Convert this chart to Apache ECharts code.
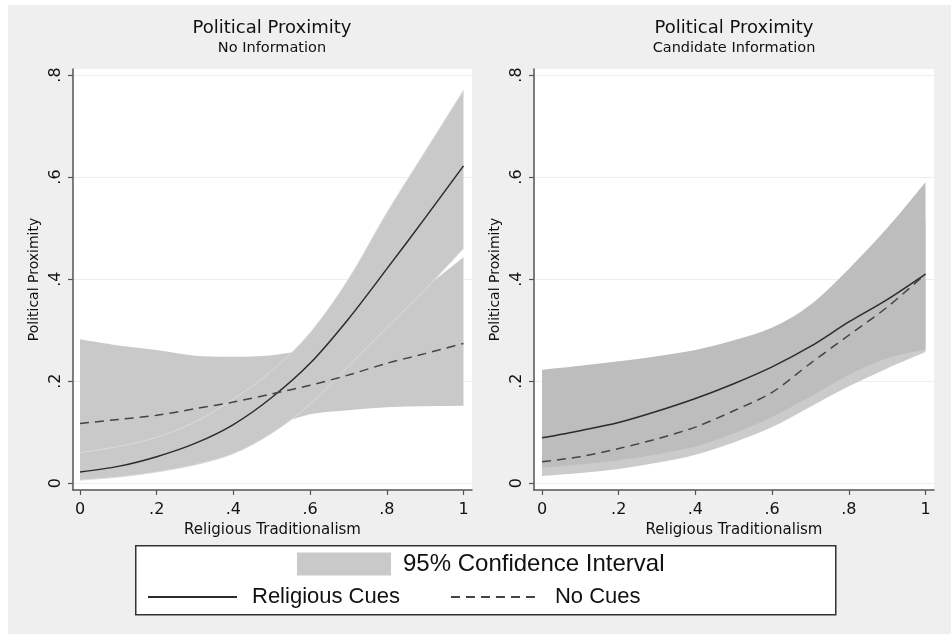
<!DOCTYPE html>
<html>
<head>
<meta charset="utf-8">
<script src="https://cdn.jsdelivr.net/npm/echarts@6/dist/echarts.min.js"></script>
<style>
html, body { margin: 0; padding: 0; background: #fff; }
#chart { width: 951px; height: 634px; }
</style>
</head>
<body>
<div id="chart"></div>
<script>
// religious traditionalism, sampled every 0.1
const xs = [0, 0.1, 0.2, 0.3, 0.4, 0.5, 0.6, 0.7, 0.8, 0.9, 1];

// left panel: No Information
const leftRelig   = [0.022, 0.033, 0.052, 0.078, 0.115, 0.168, 0.235, 0.322, 0.420, 0.520, 0.622];
const leftReligLo = [0.006, 0.012, 0.022, 0.036, 0.058, 0.098, 0.155, 0.230, 0.305, 0.380, 0.460];
const leftReligHi = [0.060, 0.072, 0.090, 0.120, 0.165, 0.220, 0.295, 0.400, 0.530, 0.650, 0.770];
const leftNone    = [0.117, 0.125, 0.133, 0.146, 0.159, 0.175, 0.192, 0.212, 0.235, 0.254, 0.274];
const leftNoneLo  = [0.040, 0.050, 0.062, 0.078, 0.095, 0.112, 0.135, 0.143, 0.149, 0.151, 0.152];
const leftNoneHi  = [0.282, 0.270, 0.261, 0.250, 0.248, 0.251, 0.265, 0.300, 0.340, 0.385, 0.443];

// right panel: Candidate Information
const rightRelig   = [0.089, 0.103, 0.119, 0.141, 0.166, 0.195, 0.228, 0.268, 0.316, 0.360, 0.410];
const rightReligLo = [0.030, 0.037, 0.045, 0.057, 0.072, 0.098, 0.130, 0.170, 0.212, 0.245, 0.262];
const rightReligHi = [0.222, 0.230, 0.239, 0.249, 0.261, 0.280, 0.305, 0.350, 0.420, 0.500, 0.590];
const rightNone    = [0.042, 0.052, 0.068, 0.087, 0.110, 0.142, 0.178, 0.235, 0.290, 0.345, 0.410];
const rightNoneLo  = [0.014, 0.020, 0.028, 0.040, 0.056, 0.080, 0.110, 0.150, 0.190, 0.225, 0.257];
const rightNoneHi  = [0.110, 0.118, 0.125, 0.140, 0.160, 0.190, 0.240, 0.300, 0.370, 0.440, 0.520];

const xTicks = [0, 0.2, 0.4, 0.6, 0.8, 1];
const xTickLabels = ["0", ".2", ".4", ".6", ".8", "1"];
const yTicks = [0, 0.2, 0.4, 0.6, 0.8];
const yTickLabels = ["0", ".2", ".4", ".6", ".8"];

const panelTitle = "Political Proximity";
const panelSubtitles = ["No Information", "Candidate Information"];

const plotFont = "DejaVu Sans";
const legendFont = "Liberation Sans";

function pairs(ys) {
  return xs.map((x, i) => [x, ys[i]]);
}
function tickText(ticks, labels) {
  return v => {
    const i = ticks.findIndex(t => Math.abs(t - v) < 1e-6);
    return i < 0 ? "" : labels[i];
  };
}
// catmull-rom curve through pixel points, as svg "C" segments
function curveThrough(pts) {
  let d = "";
  for (let i = 0; i < pts.length - 1; i++) {
    const p0 = pts[Math.max(i - 1, 0)];
    const p1 = pts[i];
    const p2 = pts[i + 1];
    const p3 = pts[Math.min(i + 2, pts.length - 1)];
    const c1 = [p1[0] + (p2[0] - p0[0]) / 6, p1[1] + (p2[1] - p0[1]) / 6];
    const c2 = [p2[0] - (p3[0] - p1[0]) / 6, p2[1] - (p3[1] - p1[1]) / 6];
    d += " C" + c1.join(",") + " " + c2.join(",") + " " + p2.join(",");
  }
  return d;
}

function makeXAxis(idx, min, max) {
  return {
    type: "value",
    gridIndex: idx,
    min: min,
    max: max,
    name: "Religious Traditionalism",
    nameLocation: "middle",
    nameGap: 31,
    nameTextStyle: { fontFamily: plotFont, fontSize: 15, color: "#111" },
    axisLine: { onZero: false, lineStyle: { color: "#555", width: 1.5 } },
    axisTick: { show: true, length: 5, customValues: xTicks, lineStyle: { color: "#555", width: 1.2 } },
    axisLabel: {
      customValues: xTicks,
      formatter: tickText(xTicks, xTickLabels),
      margin: 12,
      fontFamily: plotFont,
      fontSize: 16,
      color: "#111"
    },
    splitLine: { show: false }
  };
}
function makeYAxis(idx) {
  return {
    type: "value",
    gridIndex: idx,
    min: -0.0133,
    max: 0.8118,
    name: panelTitle,
    nameLocation: "middle",
    nameGap: 32,
    nameTextStyle: { fontFamily: plotFont, fontSize: 14, color: "#111" },
    axisLine: { show: true, onZero: false, lineStyle: { color: "#555", width: 1.5 } },
    axisTick: { show: true, length: 5, customValues: yTicks, lineStyle: { color: "#555", width: 1.2 } },
    axisLabel: {
      customValues: yTicks,
      formatter: tickText(yTicks, yTickLabels),
      rotate: 90,
      margin: 9,
      fontFamily: plotFont,
      fontSize: 16,
      color: "#111"
    },
    splitLine: { show: true, lineStyle: { color: "#eeeeee", width: 1 } }
  };
}

// confidence band: one closed shape through the axis scales
function bandSeries(idx, lo, hi, fill, edge) {
  return {
    name: "95% Confidence Interval",
    type: "custom",
    xAxisIndex: idx,
    yAxisIndex: idx,
    silent: true,
    itemStyle: { color: fill },
    encode: { x: 0, y: [1, 2] },
    data: xs.map((x, i) => [x, lo[i], hi[i]]),
    renderItem: function (params, api) {
      if (params.dataIndex !== 0) return null;
      const top = xs.map((x, i) => api.coord([x, hi[i]]));
      const bottom = xs.map((x, i) => api.coord([x, lo[i]]));
      const back = bottom.slice().reverse();
      const area = "M" + top[0].join(",") + curveThrough(top) +
        " L" + back[0].join(",") + curveThrough(back) + " Z";
      const children = [{ type: "path", shape: { pathData: area }, style: { fill: fill } }];
      if (edge) {
        [top, bottom].forEach(pts => {
          children.push({
            type: "path",
            shape: { pathData: "M" + pts[0].join(",") + curveThrough(pts) },
            style: { stroke: edge, lineWidth: 1, fill: null }
          });
        });
      }
      return { type: "group", children: children };
    }
  };
}
function lineSeries(idx, ys, name, dashed) {
  return {
    name: name,
    type: "line",
    xAxisIndex: idx,
    yAxisIndex: idx,
    symbol: "none",
    smooth: 0.3,
    itemStyle: { color: "#333" },
    lineStyle: { color: dashed ? "#444" : "#2b2b2b", width: 1.5, type: dashed ? [9, 6] : "solid" },
    data: pairs(ys),
    z: 5
  };
}

const chart = echarts.init(document.getElementById("chart"));
const option = {
  animation: false,
  backgroundColor: "#efefef",
  title: [
    {
      text: panelTitle, subtext: panelSubtitles[0],
      left: 267, top: 14, textAlign: "center", itemGap: 4,
      textStyle: { fontFamily: plotFont, fontSize: 18, fontWeight: "normal", color: "#111" },
      subtextStyle: { fontFamily: plotFont, fontSize: 14.5, color: "#111" }
    },
    {
      text: panelTitle, subtext: panelSubtitles[1],
      left: 729, top: 14, textAlign: "center", itemGap: 4,
      textStyle: { fontFamily: plotFont, fontSize: 18, fontWeight: "normal", color: "#111" },
      subtextStyle: { fontFamily: plotFont, fontSize: 14.5, color: "#111" }
    }
  ],
  graphic: [
    { type: "rect", left: 0, top: 0, shape: { width: 951, height: 5 }, style: { fill: "#fff" }, silent: true },
    { type: "rect", left: 0, top: 0, shape: { width: 8, height: 634 }, style: { fill: "#fff" }, silent: true },
    {
      type: "rect", left: 135, top: 545,
      shape: { width: 700, height: 69 },
      style: { fill: "#fff", stroke: "#333", lineWidth: 1.5 },
      silent: true
    }
  ],
  legend: [
    {
      data: ["95% Confidence Interval"],
      left: 292, top: 547,
      icon: "rect",
      itemWidth: 94, itemHeight: 23,
      selectedMode: false,
      itemStyle: { color: "#c9c9c9", borderWidth: 0 },
      textStyle: { fontFamily: legendFont, fontSize: 24, color: "#111", padding: [0, 0, 0, 7] }
    },
    {
      data: ["Religious Cues", "No Cues"],
      left: 142, top: 581,
      itemWidth: 89, itemHeight: 16, itemGap: 50,
      selectedMode: false,
      itemStyle: { color: "rgba(0,0,0,0)", borderColor: "rgba(0,0,0,0)", borderWidth: 0, opacity: 0 },
      textStyle: { fontFamily: legendFont, fontSize: 22, color: "#111", padding: [0, 0, 0, 10] }
    }
  ],
  grid: [
    { left: 73, top: 69, width: 399, height: 421, show: true, backgroundColor: "#fff", borderWidth: 0 },
    { left: 534, top: 69, width: 400, height: 421, show: true, backgroundColor: "#fff", borderWidth: 0 }
  ],
  xAxis: [makeXAxis(0, -0.01825, 1.0222), makeXAxis(1, -0.0209, 1.0222)],
  yAxis: [makeYAxis(0), makeYAxis(1)],
  series: [
    bandSeries(0, leftNoneLo, leftNoneHi, "#c9c9c9", null),
    bandSeries(0, leftReligLo, leftReligHi, "#c9c9c9", "#dcdcdc"),
    lineSeries(0, leftRelig, "Religious Cues", false),
    lineSeries(0, leftNone, "No Cues", true),
    bandSeries(1, rightNoneLo, rightNoneHi, "#cbcbcb", null),
    bandSeries(1, rightReligLo, rightReligHi, "#bdbdbd", null),
    lineSeries(1, rightRelig, "Religious Cues", false),
    lineSeries(1, rightNone, "No Cues", true)
  ]
};
chart.setOption(option);
</script>
</body>
</html>
